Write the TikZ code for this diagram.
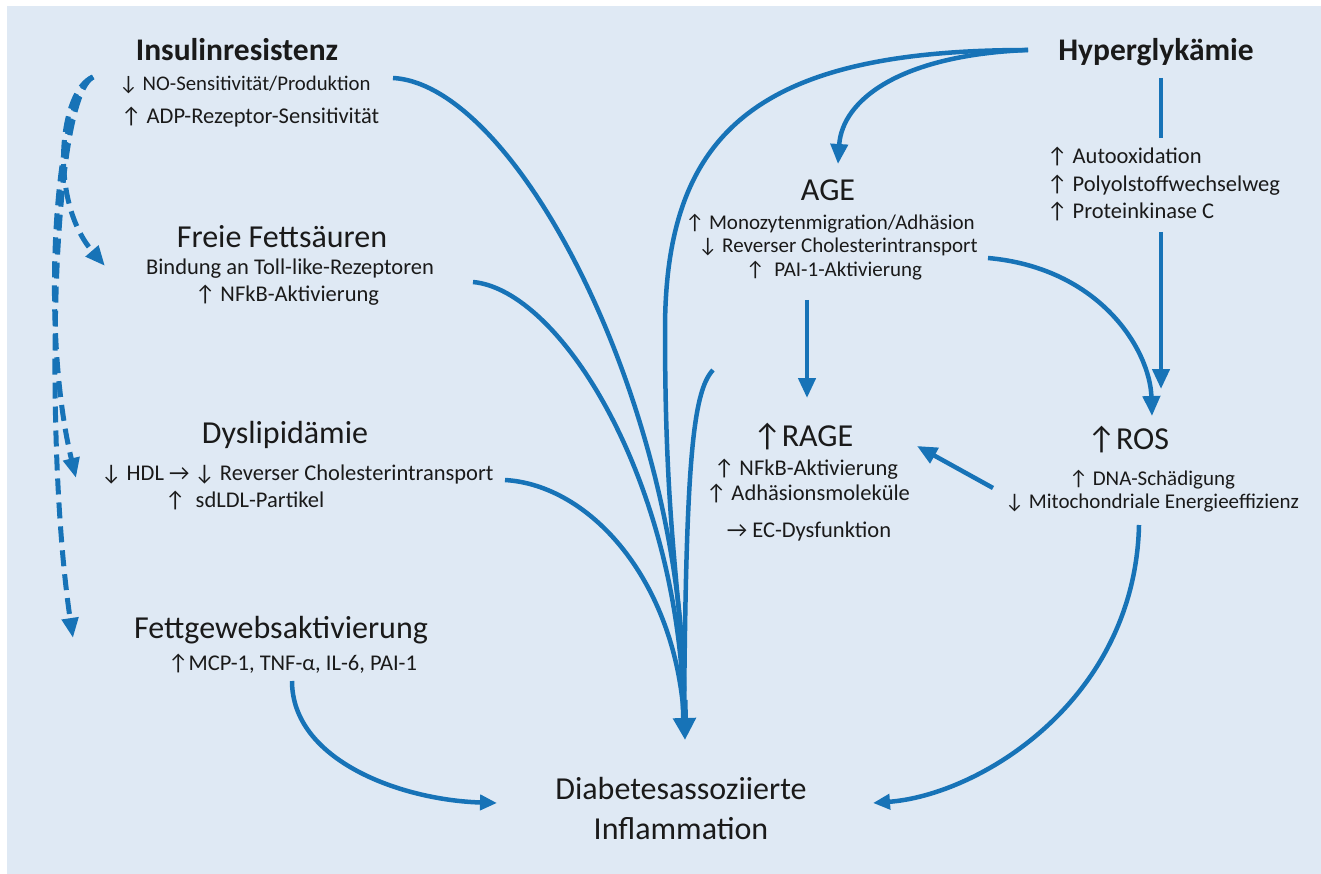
\RequirePackage{fix-cm}
\documentclass[tikz,border=0pt]{standalone}
\usepackage{fontspec}
\setmainfont{Carlito}
\usetikzlibrary{arrows.meta}
\definecolor{bg}{RGB}{223,233,244}
\definecolor{ln}{RGB}{23,115,183}
\definecolor{tx}{RGB}{26,26,26}
\newcommand{\UA}{↑}
\newcommand{\DA}{↓}
\newcommand{\RA}{→}
\begin{document}
\begin{tikzpicture}[x=1pt,y=-1pt,
  headtxt/.style={font=\fontsize{31.5}{38}\selectfont\bfseries, text=tx, inner sep=0pt},
  bigtxt/.style={font=\fontsize{32}{40}\selectfont, text=tx, inner sep=0pt},
  smalltxt/.style={font=\fontsize{22.5}{27}\selectfont, text=tx, inner sep=0pt, text height=15.5pt, text depth=4.5pt},
  condtxt/.style={font=\fontsize{21}{23.5}\selectfont, text=tx, inner sep=0pt, align=center},
  link/.style={draw=ln, line width=4.5pt},
  arr/.style={link, -{Triangle[length=20pt,width=17pt]}},
  arrsm/.style={link, -{Triangle[length=17pt,width=15pt]}},
  dashlink/.style={draw=ln, line width=5pt, dash pattern=on 16pt off 8pt, -{Triangle[length=20pt,width=16pt]}}
]
\useasboundingbox (0,0) rectangle (1321,874);
\fill[bg] (7,6) rectangle (1321,874);

% ---- text nodes ----
\node[headtxt] (ins) at (237,50) {Insulinresistenz};
\node[smalltxt, anchor=west, font=\fontsize{20.8}{25}\selectfont] (ins1) at (119,85) {\DA{} NO-Sensitivität/Produktion};
\node[smalltxt, anchor=west] (ins2) at (121,118) {\UA{} ADP-Rezeptor-Sensitivität};

\node[bigtxt] (ffa) at (282,237) {Freie Fettsäuren};
\node[smalltxt] (ffa1) at (290,269) {Bindung an Toll-like-Rezeptoren};
\node[smalltxt] (ffa2) at (287,296) {\UA{} NFkB-Aktivierung};

\node[bigtxt] (dys) at (285,435) {Dyslipidämie};
\node[smalltxt, anchor=west] (dys1) at (101,475) {\DA{} HDL \RA{} \DA{} Reverser Cholesterintransport};
\node[smalltxt, anchor=west] (dys2) at (165,502) {\UA{} \ sdLDL-Partikel};

\node[bigtxt] (fett) at (281,630) {Fettgewebsaktivierung};
\node[smalltxt, anchor=west] (fett1) at (168,665) {\UA{}MCP-1, TNF-α, IL-6, PAI-1};

\node[bigtxt, align=center] (dia) at (681,808) {Diabetesassoziierte\\Inflammation};

\node[headtxt] (hyp) at (1156,52) {Hyperglykämie};
\node[smalltxt, anchor=west] (hyp1) at (1047,158) {\UA{} Autooxidation};
\node[smalltxt, anchor=west] (hyp2) at (1047,186) {\UA{} Polyolstoffwechselweg};
\node[smalltxt, anchor=west] (hyp3) at (1047,213) {\UA{} Proteinkinase C};

\node[bigtxt] (age) at (828,190) {AGE};
\node[condtxt] (agetxt) at (834,247) {\UA{} Monozytenmigration/Adhäsion\hspace*{8pt}\\
  \hspace*{8pt}\DA{} Reverser Cholesterintransport\\
  \UA{} \ PAI-1-Aktivierung};

\node[bigtxt] (rage) at (803,437) {\UA{}RAGE};
\node[smalltxt] (rage1) at (806,470) {\UA{} NFkB-Aktivierung};
\node[smalltxt] (rage2) at (808,495) {\UA{} Adhäsionsmoleküle};
\node[smalltxt] (rage3) at (809,532) {\RA{} EC-Dysfunktion};

\node[bigtxt] (ros) at (1128,440) {\UA{}ROS};
\node[condtxt] (rostxt) at (1152,491) {\UA{} DNA-Schädigung\\\DA{} Mitochondriale Energieeffizienz};

% ---- connector end points ----
\coordinate (insS) at (393,78);
\coordinate (ffaS) at (473,282);
\coordinate (dysS) at (505,480);
\coordinate (hypS) at (1028,50);
\coordinate (eS) at (713,370);
\coordinate (merge) at (684,718);
\coordinate (mergeA) at (684,700);
\coordinate (diaT) at (685,740);
\coordinate (ageT) at (838,164);
\coordinate (hypL1) at (1161,78);
\coordinate (hypL2) at (1161,138);
\coordinate (hypL3) at (1161,232);
\coordinate (rosT1) at (1161,389);
\coordinate (ageS) at (988,258);
\coordinate (rosT2) at (1152,416);
\coordinate (ageD) at (807,300);
\coordinate (rageT) at (807,398);
\coordinate (rosS) at (993,488);
\coordinate (rageT2) at (917,446);
\coordinate (rosD) at (1139,525);
\coordinate (diaR) at (873,803);
\coordinate (fettS) at (292,681);
\coordinate (diaL) at (497,803);
\coordinate (dS) at (93,77);
\coordinate (ffaT) at (105,266);
\coordinate (dysT) at (76,478);
\coordinate (fettT) at (73,638);

% ---- bundle into inflammation ----
\draw[link] (insS) .. controls (520,85) and (690,420) .. (merge);
\draw[link] (ffaS) .. controls (560,290) and (680,480) .. (merge);
\draw[link] (dysS) .. controls (590,485) and (675,580) .. (merge);
\draw[link] (hypS) .. controls (760,50) and (665,130) .. (665,330) .. controls (665,550) and (684,600) .. (merge);
\draw[link] (eS) .. controls (692,392) and (686,470) .. (merge);
\draw[link, line width=7pt, -{Triangle[length=22pt,width=22pt]}] (mergeA) -- (diaT);

% ---- right side ----
\draw[arr] (hypS) .. controls (900,55) and (842,100) .. (ageT);
\draw[link] (hypL1) -- (hypL2);
\draw[arr] (hypL3) -- (rosT1);
\draw[arr] (ageS) .. controls (1100,268) and (1150,350) .. (rosT2);
\draw[arr] (ageD) -- (rageT);
\draw[arr] (rosS) -- (rageT2);
\draw[arrsm] (rosD) .. controls (1135,700) and (980,795) .. (diaR);
\draw[arrsm] (fettS) .. controls (292,760) and (400,800) .. (diaL);

% ---- dashed ----
\draw[dashlink] (dS) .. controls (60,90) and (48,200) .. (ffaT);
\draw[dashlink] (dS) .. controls (55,95) and (40,330) .. (dysT);
\draw[dashlink] (dS) .. controls (50,100) and (45,450) .. (fettT);
\end{tikzpicture}
\end{document}
